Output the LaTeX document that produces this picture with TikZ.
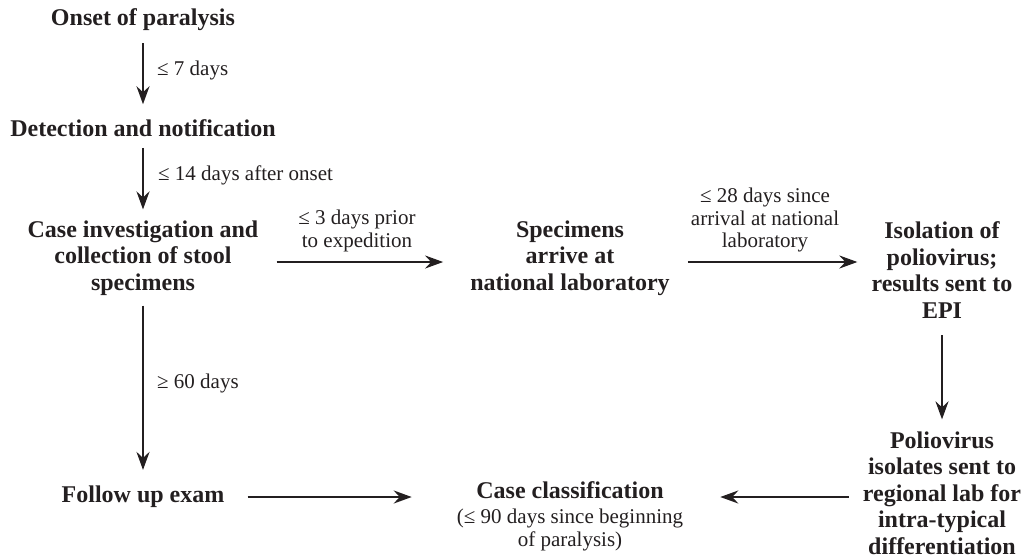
\documentclass[tikz,border=0pt]{standalone}
\usepackage{fontspec}
\setmainfont{Liberation Serif}
\usetikzlibrary{arrows.meta}
\definecolor{ink}{HTML}{231F20}
\tikzset{
  stage/.style={font=\fontsize{24}{26.5}\selectfont\bfseries, align=center, inner sep=0pt, text=ink},
  note/.style={font=\fontsize{21}{22.5}\selectfont, align=center, inner sep=0pt, text=ink},
  arr/.style={draw=ink, line width=2.3pt, -{Stealth[length=18pt,width=13pt,inset=6pt]}}
}
\begin{document}
\begin{tikzpicture}[x=1pt,y=-1pt]
\useasboundingbox (0,0) rectangle (1022,558);
% stages
\node[stage] (on)  at (143,20)  {Onset of paralysis};
\node[stage] (det) at (143,128) {Detection and notification};
\node[stage] (ci)  at (143,258) {Case investigation and\\collection of stool\\specimens};
\node[stage] (sp)  at (570,258) {Specimens\\arrive at\\national laboratory};
\node[stage] (iso) at (942,270) {Isolation of\\poliovirus;\\results sent to\\EPI};
\node[stage] (pv)  at (942,493) {Poliovirus\\isolates sent to\\regional lab for\\intra-typical\\differentiation};
\node[stage] (fu)  at (143,497) {Follow up exam};
\node[stage] (cc)  at (570,490) {Case classification};
\node[note]  (ccn) at (570,530) {(≤ 90 days since beginning\\of paralysis)};
% labels
\node[note, anchor=west] (l1) at (157,70)  {≤ 7 days};
\node[note, anchor=west] (l2) at (158,175) {≤ 14 days after onset};
\node[note, anchor=west] (l3) at (157,383) {≥ 60 days};
\node[note] (l4) at (357,231) {≤ 3 days prior\\to expedition};
\node[note] (l5) at (765,220) {≤ 28 days since\\arrival at national\\laboratory};
% rows
\coordinate (r1) at (0,262);
\coordinate (r2) at (0,497);
% connectors
\draw[arr, shorten <=12pt, shorten >=15pt] (on.south) -- (det.north);
\draw[arr, shorten <=11pt, shorten >=11pt] (det.south) -- (ci.north);
\draw[arr, shorten <=10pt, shorten >=16pt] (ci.south) -- (fu.north);
\draw[arr, shorten <=18pt, shorten >=27pt] (ci.east |- r1) -- (sp.west |- r1);
\draw[arr, shorten <=18pt, shorten >=14pt] (sp.east |- r1) -- (iso.west |- r1);
\draw[arr, shorten <=17pt, shorten >=12pt] (iso.south) -- (pv.north);
\draw[arr, shorten <=23pt, shorten >=45pt] (fu.east |- r2) -- (ccn.west |- r2);
\draw[arr, shorten <=14pt, shorten >=37pt] (pv.west |- r2) -- (ccn.east |- r2);
\end{tikzpicture}
\end{document}
